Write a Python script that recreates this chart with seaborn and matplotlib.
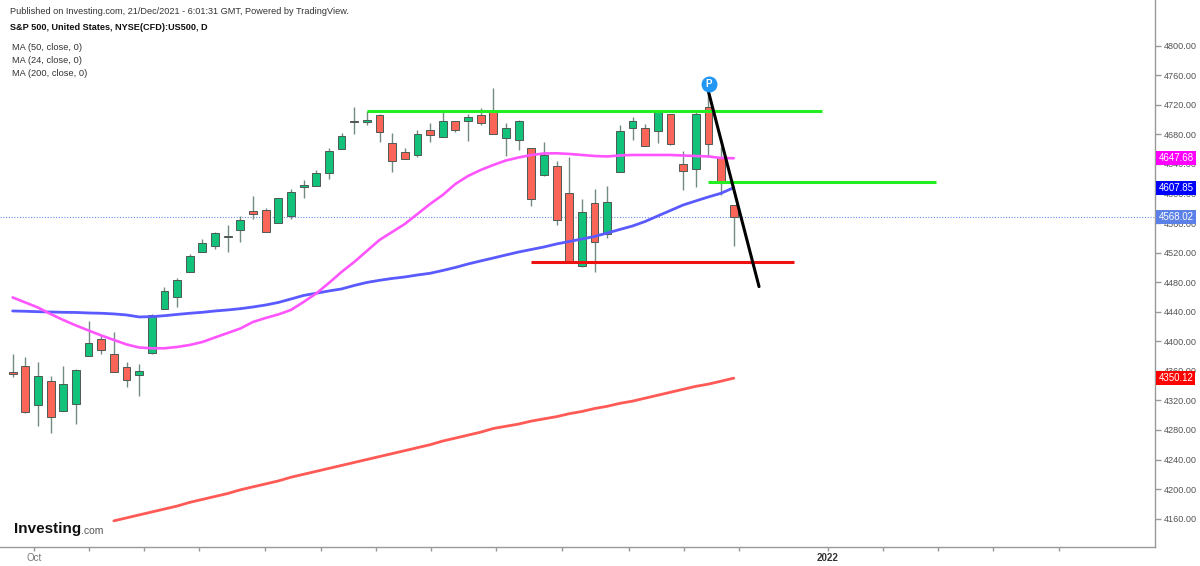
import numpy as np
import pandas as pd
import matplotlib.pyplot as plt
import matplotlib.transforms as mtransforms
import seaborn as sns

# Daily OHLC candles (index 0 = 29 Sep 2021)
opens = [4358.9, 4367, 4314, 4346, 4306, 4315.6, 4380, 4403, 4382.4, 4365,
         4355, 4384, 4444, 4460, 4494, 4521, 4529, 4543, 4550.6, 4576,
         4578, 4560.5, 4569.6, 4608.4, 4610, 4628, 4660, 4696.3, 4697, 4706,
         4668, 4656.6, 4651.7, 4686, 4676, 4698.5, 4698.5, 4706, 4710, 4675.5,
         4673, 4662, 4625, 4637.6, 4600, 4502, 4586.7, 4544.8, 4629.5, 4688.6,
         4688, 4685, 4707.6, 4640, 4633, 4716.6, 4649.8, 4585]
highs = [4382.8, 4379, 4372, 4353, 4366, 4362, 4427, 4408.5, 4412, 4371.6,
         4369, 4437, 4473, 4485, 4518, 4538, 4548, 4557, 4569.6, 4596.6,
         4581, 4594.5, 4605.7, 4618, 4632, 4661, 4681.5, 4716.6, 4712, 4707.6,
         4682, 4662, 4686, 4695, 4713, 4698.5, 4707.6, 4715, 4742.4, 4696,
         4700, 4662, 4670, 4644, 4650, 4592.6, 4606, 4610, 4692.7, 4704,
         4694, 4713, 4708, 4658, 4710, 4740, 4663, 4585]
lows = [4352.1, 4303, 4286, 4276, 4306, 4288, 4380, 4383, 4358, 4338.6,
        4326, 4383, 4444, 4447, 4494, 4521, 4525, 4521, 4535, 4566,
        4548, 4560, 4565, 4593.5, 4610, 4619, 4659.8, 4680, 4693, 4669,
        4629, 4646, 4649, 4669, 4676, 4683, 4670.6, 4692.7, 4680, 4651,
        4659, 4583, 4623.7, 4558, 4509, 4500, 4493.4, 4539.4, 4629.5, 4673,
        4664, 4668.7, 4666, 4604.7, 4608.4, 4649.8, 4598, 4529.4]
closes = [4355.7, 4304, 4353.5, 4297, 4342.6, 4360.8, 4397, 4388, 4358, 4347,
          4360, 4435.6, 4468.5, 4483, 4516, 4532.6, 4547, 4541, 4564, 4572,
          4548.3, 4593.5, 4602.4, 4611.5, 4628, 4658, 4678, 4695, 4699, 4683,
          4644.4, 4646.3, 4680, 4679.6, 4698.5, 4686, 4704, 4695, 4680.5, 4688,
          4698.5, 4592, 4652, 4564, 4509, 4574.6, 4534.8, 4589, 4684.6, 4698.5,
          4664.3, 4710, 4666.6, 4631, 4707, 4666.6, 4617.3, 4568.02]

# Moving averages, one value per candle
ma50 = [4441, 4440.6, 4440, 4439.6, 4439.2, 4439, 4438.3, 4437.9, 4437, 4435.6,
        4432.9, 4433.3, 4434.6, 4436.3, 4437.9, 4439.2, 4441, 4442.4, 4444.1, 4446.4,
        4449.1, 4452.5, 4457.2, 4462, 4465, 4468.1, 4470.8, 4475.5, 4479.6, 4482.5,
        4485, 4487, 4489.7, 4492, 4495.8, 4499.9, 4504.6, 4508.7, 4512.7, 4516.8,
        4520.8, 4524.2, 4527.6, 4531.7, 4535, 4538.4, 4541.8, 4546.5, 4551.3, 4556,
        4562.1, 4569.6, 4577, 4584.4, 4589.9, 4595.3, 4600.3, 4607.85]
ma24 = [4459.3, 4452.5, 4445.7, 4436.9, 4428.8, 4421.4, 4414.6, 4407.9, 4401.8, 4395.7,
        4391.6, 4390.5, 4390.5, 4392.3, 4395, 4399, 4405.2, 4411.2, 4417.3, 4426.1,
        4431.5, 4436.3, 4442.4, 4453.2, 4464.7, 4478.9, 4493.8, 4507.3, 4522.2, 4537.1,
        4547.9, 4558.7, 4572.3, 4585.8, 4598, 4612.9, 4623.7, 4631.8, 4638.6, 4644.7,
        4648.7, 4652.1, 4654.1, 4654.4, 4653.5, 4652.1, 4650.7, 4650.1, 4651.4, 4652.1,
        4652.1, 4652.1, 4652.1, 4651.4, 4650.7, 4650.1, 4648, 4647.68]
ma200_start = 8
ma200 = [4157, 4161, 4165, 4169, 4173, 4177, 4182, 4186, 4190, 4194,
         4199, 4203, 4207, 4211, 4216, 4220, 4224, 4228, 4232, 4236,
         4240, 4244, 4248, 4252, 4256, 4260, 4265, 4269, 4273, 4277,
         4282, 4285, 4288, 4292, 4295, 4298, 4302, 4305, 4309, 4312,
         4316, 4319, 4323, 4327, 4331, 4335, 4339, 4342, 4346, 4350.12]

# Drawn levels: (start bar, end bar, price)
green_top = (28, 64, 4711.6)
green_mid = (55, 73, 4615.6)
red_support = (41, 61.8, 4507.7)
trend_line = ((55.0, 4738), (59.0, 4474))

y_ticks = [4160, 4200, 4240, 4280, 4320, 4360, 4400, 4440, 4480, 4520,
           4560, 4600, 4640, 4680, 4720, 4760, 4800]
x_ticks = [1.68, 6.0, 10.38, 14.73, 19.95, 24.35, 28.7, 33.04, 38.2, 43.4,
           48.74, 53.07, 57.44, 64.43, 68.77, 73.12, 77.47, 82.71]
x_tick_labels = {1.68: "Oct", 64.43: "2022"}

sns.set_style("white")
plt.rcParams["font.family"] = ["Liberation Sans", "DejaVu Sans"]

fig = plt.figure(figsize=(12, 5.66), dpi=100)
ax = fig.add_axes([0, 19 / 566, 1155 / 1200, 547 / 566])

candles = pd.DataFrame({"open": opens, "high": highs, "low": lows, "close": closes})
candles["x"] = np.arange(len(candles))
up = candles["close"] >= candles["open"]

# wicks and bodies
ax.vlines(candles["x"], candles["low"], candles["high"], color="#728d80", lw=1, zorder=3)
body = (candles["close"] - candles["open"]).where(lambda s: s.abs() > 1.5, 1.5)
ax.bar(candles["x"], body, bottom=candles["open"], width=0.62,
       color=np.where(up, "#13c27a", "#fb6558"), edgecolor="#4d5a54", lw=0.7, zorder=4)

# moving averages
sns.lineplot(x=np.arange(len(ma50)), y=ma50, ax=ax, color="#5a5aff", lw=2.0, zorder=5, legend=False)
sns.lineplot(x=np.arange(len(ma24)), y=ma24, ax=ax, color="#ff55ff", lw=1.9, zorder=5, legend=False)
sns.lineplot(x=np.arange(ma200_start, ma200_start + len(ma200)), y=ma200, ax=ax,
             color="#ff5a55", lw=2.0, zorder=5, legend=False)

# last price dotted line
ax.axhline(closes[-1], color="#6b8df0", lw=0.8, ls=(0, (1, 1.5)), zorder=1)

# drawings
ax.hlines(green_top[2], green_top[0], green_top[1], color="#22ee22", lw=2.2, zorder=6)
ax.hlines(green_mid[2], green_mid[0], green_mid[1], color="#22ee22", lw=2.2, zorder=6)
ax.hlines(red_support[2], red_support[0], red_support[1], color="#ee1111", lw=2.2, zorder=6)
ax.plot([trend_line[0][0], trend_line[1][0]], [trend_line[0][1], trend_line[1][1]],
        color="black", lw=2.2, zorder=7)
ax.scatter([55.05], [4748], s=110, color="#2196f3", zorder=8)
ax.text(55.05, 4748, "P", color="white", fontsize=7, fontweight="bold",
        ha="center", va="center", zorder=9)

ax.set_xlim(-1.0, 90.3)
ax.set_ylim(4121.6, 4861.8)

# axes styling
for side in ["top", "left"]:
    ax.spines[side].set_visible(False)
for side in ["right", "bottom"]:
    ax.spines[side].set_color("#999999")
    ax.spines[side].set_linewidth(1)
ax.yaxis.tick_right()
ax.set_yticks(y_ticks)
ax.set_yticklabels([f"{v:.2f}" for v in y_ticks])
ax.set_xticks(x_ticks)
ax.set_xticklabels([x_tick_labels.get(t, "") for t in x_ticks])
ax.tick_params(axis="y", right=True, left=False, direction="out", length=4, width=1,
               color="#999999", labelsize=6.6, labelcolor="#555555", pad=2)
ax.tick_params(axis="x", bottom=True, direction="out", length=3, width=1,
               color="#999999", labelsize=7, labelcolor="#777777", pad=1.5)
for lab in ax.get_xticklabels():
    if lab.get_text() == "2022":
        lab.set_color("#333333")
        lab.set_fontweight("bold")
ax.grid(False)

# price tags on the right axis
trans = mtransforms.blended_transform_factory(ax.transAxes, ax.transData)
for val, col in [(ma24[-1], "#ff00ff"), (ma50[-1], "#0000ff"),
                 (closes[-1], "#5b80e8"), (ma200[-1], "#ff0000")]:
    ax.text(1.003, val, f"{val:.2f}", transform=trans, color="white", fontsize=7,
            va="center", ha="left", clip_on=False, zorder=10,
            bbox=dict(boxstyle="square,pad=0.22", fc=col, ec="none"))

# header texts
fig.text(10 / 1200, 1 - 11 / 566,
         "Published on Investing.com, 21/Dec/2021 - 6:01:31 GMT, Powered by TradingView.",
         fontsize=6.6, color="#333333", va="center")
fig.text(10 / 1200, 1 - 27 / 566, "S&P 500, United States, NYSE(CFD):US500, D",
         fontsize=6.6, fontweight="bold", color="#111111", va="center")
for i, lab in enumerate(["MA (50, close, 0)", "MA (24, close, 0)", "MA (200, close, 0)"]):
    fig.text(12 / 1200, 1 - (47 + 13.5 * i) / 566, lab, fontsize=6.7,
             color="#333333", va="center")

# logo
logo = fig.text(14 / 1200, 1 - 533 / 566, "Investing", fontsize=11,
                fontweight="bold", color="#111111", va="baseline")
ax.annotate(".com", xy=(1, 0), xycoords=logo, xytext=(0, 0), textcoords="offset points",
            fontsize=7.5, color="#555555", va="bottom", ha="left", annotation_clip=False)

fig.savefig("out.png", dpi=100)
